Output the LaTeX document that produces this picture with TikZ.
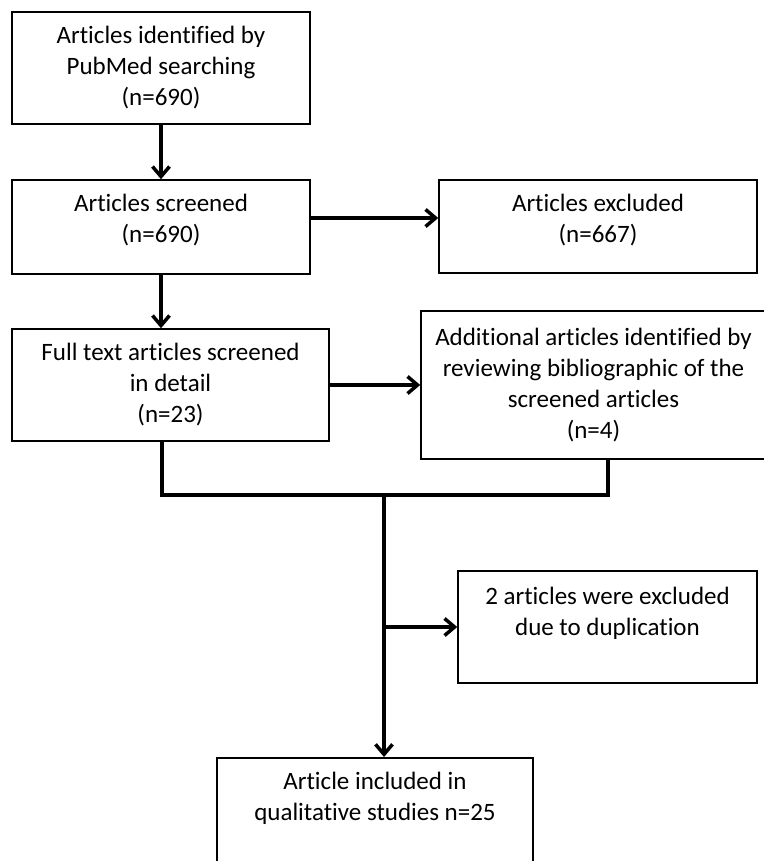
\documentclass[tikz,border=0pt]{standalone}
\usepackage{fontspec}
\setmainfont{Carlito}[Ligatures=NoCommon]
\usetikzlibrary{arrows.meta}

\tikzset{
    box/.style={draw, line width=1.5pt, inner sep=0pt, align=center,
        font=\fontsize{25}{31}\selectfont},
    flow/.style={line width=3.5pt, -{Straight Barb[length=10pt,width=17pt]}},
    link/.style={line width=3.5pt, line join=miter},
}

\begin{document}
\begin{tikzpicture}[x=1pt, y=-1pt]
    \useasboundingbox (0,0) rectangle (763,861);

    \node[box, minimum width=298pt, minimum height=112pt] (ident) at (161,68)
        {Articles identified by\\PubMed searching\\(n=690)};
    \node[box, minimum width=298pt, minimum height=94pt] (screen) at (161,227)
        {Articles screened\\(n=690)\\[-14pt]\mbox{}};
    \node[box, minimum width=318pt, minimum height=93pt] (excl) at (598,226.5)
        {Articles excluded\\(n=667)\\[-14pt]\mbox{}};
    \node[box, minimum width=317pt, minimum height=112pt] (full) at (170.5,385)
        {Full text articles screened\\in detail\\(n=23)};
    \node[box, minimum width=345pt, minimum height=148pt] (extra) at (593.5,385)
        {Additional articles identified by\\reviewing bibliographic of the\\screened articles\\(n=4)};
    \node[box, minimum width=299pt, minimum height=112pt] (dupl) at (607.5,627)
        {2 articles were excluded\\due to duplication\\\mbox{}};
    \node[box, minimum width=316pt, minimum height=140pt, anchor=north] (incl) at (375,757)
        {Article included in\\qualitative studies n=25\\\mbox{}\\\mbox{}};

    % junction points
    \coordinate (jl) at (162,495);
    \coordinate (jr) at (608,495);
    \coordinate (jm) at (384,495);
    \coordinate (jb) at (384,627);

    \draw[flow] (ident.south) -- (screen.north);
    \draw[flow] (screen.south) -- (screen.south |- full.north);
    \draw[flow] ([yshift=9pt]screen.east) -- ([yshift=9pt]screen.east -| excl.west);
    \draw[flow] (full.east) -- (extra.west);

    \draw[link] (full.south -| jl) -- (jl) -- (jr) -- (extra.south -| jr);
    \draw[flow] (jm) -- (jm |- incl.north);
    \draw[flow] (jb) -- (dupl.west);
\end{tikzpicture}
\end{document}
